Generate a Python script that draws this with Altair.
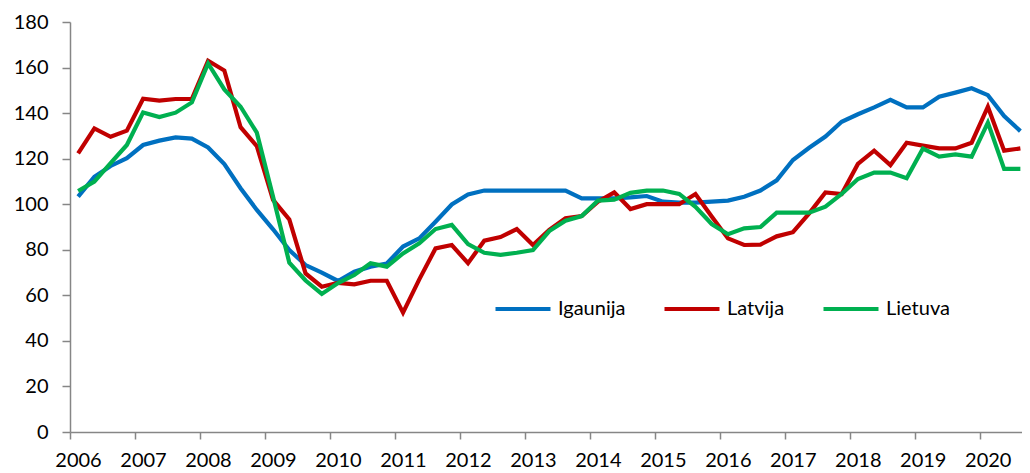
import altair as alt
import pandas as pd

years = list(range(2006, 2021))
countries = ["Igaunija", "Latvija", "Lietuva"]
colors = ["#0070C0", "#C00000", "#00B050"]

igaunija = [103.3, 112.0, 116.8, 120.2, 126.0, 127.9, 129.3, 128.8,
            124.9, 117.6, 107.0, 97.5, 89.0, 79.9, 73.3, 70.0,
            66.3, 70.4, 72.6, 74.0, 81.4, 85.0, 92.3, 99.9,
            104.3, 106.0, 106.0, 106.0, 106.0, 106.0, 106.0, 102.6,
            102.6, 102.6, 103.0, 103.6, 101.1, 100.7, 100.7, 101.1,
            101.6, 103.3, 106.0, 110.5, 119.4, 124.8, 129.7, 136.2,
            139.5, 142.5, 145.8, 142.5, 142.5, 147.2, 149.0, 150.9,
            147.9, 138.7, 132.1]
latvija = [122.3, 133.3, 129.6, 132.3, 146.3, 145.5, 146.2, 146.2,
           163.0, 158.7, 133.8, 125.5, 101.9, 93.3, 69.6, 63.8,
           65.5, 64.8, 66.4, 66.4, 52.4, 67.0, 80.6, 82.1,
           74.1, 84.0, 85.6, 89.1, 82.1, 88.7, 93.8, 94.8,
           101.1, 105.2, 97.9, 100.0, 100.0, 100.0, 104.5, 94.6,
           85.0, 82.1, 82.3, 85.9, 87.7, 96.0, 105.2, 104.5,
           117.7, 123.5, 117.2, 127.0, 125.7, 124.5, 124.5, 127.0,
           142.8, 123.5, 124.5]
lietuva = [105.8, 109.9, 118.0, 126.0, 140.3, 138.3, 140.2, 144.7,
           161.8, 150.4, 142.8, 131.4, 103.3, 74.3, 66.5, 60.6,
           65.4, 68.9, 74.1, 72.6, 78.4, 82.8, 89.1, 90.9,
           82.5, 78.7, 77.8, 78.7, 79.9, 88.2, 92.8, 94.8,
           101.6, 102.0, 105.0, 106.0, 106.0, 104.5, 98.9, 91.3,
           86.8, 89.4, 90.0, 96.3, 96.3, 96.3, 98.9, 104.5,
           111.1, 113.9, 113.9, 111.4, 124.4, 120.9, 121.9, 120.9,
           135.8, 115.5, 115.5]

series = {"Igaunija": igaunija, "Latvija": latvija, "Lietuva": lietuva}
rows = []
for name, vals in series.items():
    for i, v in enumerate(vals):
        rows.append({"t": 2006 + (i + 0.5) / 4, "country": name, "value": v})
df = pd.DataFrame(rows)

FONT = "Lato"
AXIS_COLOR = "#868686"

chart = alt.Chart(df).mark_line(strokeWidth=4.2, strokeJoin="miter", clip=True).encode(
    x=alt.X("t:Q",
            scale=alt.Scale(domain=[2006, 2020.65], nice=False, zero=False),
            axis=alt.Axis(values=years, format="d", title=None, grid=False,
                          tickSize=7, labelOffset=8, labelPadding=11,
                          labelFontSize=20, labelColor="#000000", labelFont=FONT,
                          domainColor=AXIS_COLOR, tickColor=AXIS_COLOR,
                          domainWidth=1.5, tickWidth=1.5, labelFlush=False,
                          labelOverlap=False)),
    y=alt.Y("value:Q",
            scale=alt.Scale(domain=[0, 180], nice=False),
            axis=alt.Axis(values=list(range(0, 181, 20)), title=None, grid=False,
                          tickSize=8, labelPadding=14,
                          labelFontSize=20, labelColor="#000000", labelFont=FONT,
                          domainColor=AXIS_COLOR, tickColor=AXIS_COLOR,
                          domainWidth=1.5, tickWidth=1.5)),
    color=alt.Color("country:N",
                    scale=alt.Scale(domain=countries, range=colors),
                    legend=alt.Legend(orient="none", legendX=423, legendY=257,
                                      direction="horizontal", title=None,
                                      symbolType="stroke", symbolSize=3025,
                                      symbolStrokeWidth=4.2, labelOffset=5,
                                      columnPadding=30, padding=0,
                                      labelFontSize=20, labelFont=FONT,
                                      labelColor="#000000")),
).properties(
    width=952, height=410,
    autosize=alt.AutoSizeParams(type="none"),
    padding={"left": 62, "top": 14, "right": 0, "bottom": 40},
).configure_view(stroke=None)

chart.save("out.html", embed_options={"renderer": "svg", "actions": False})
